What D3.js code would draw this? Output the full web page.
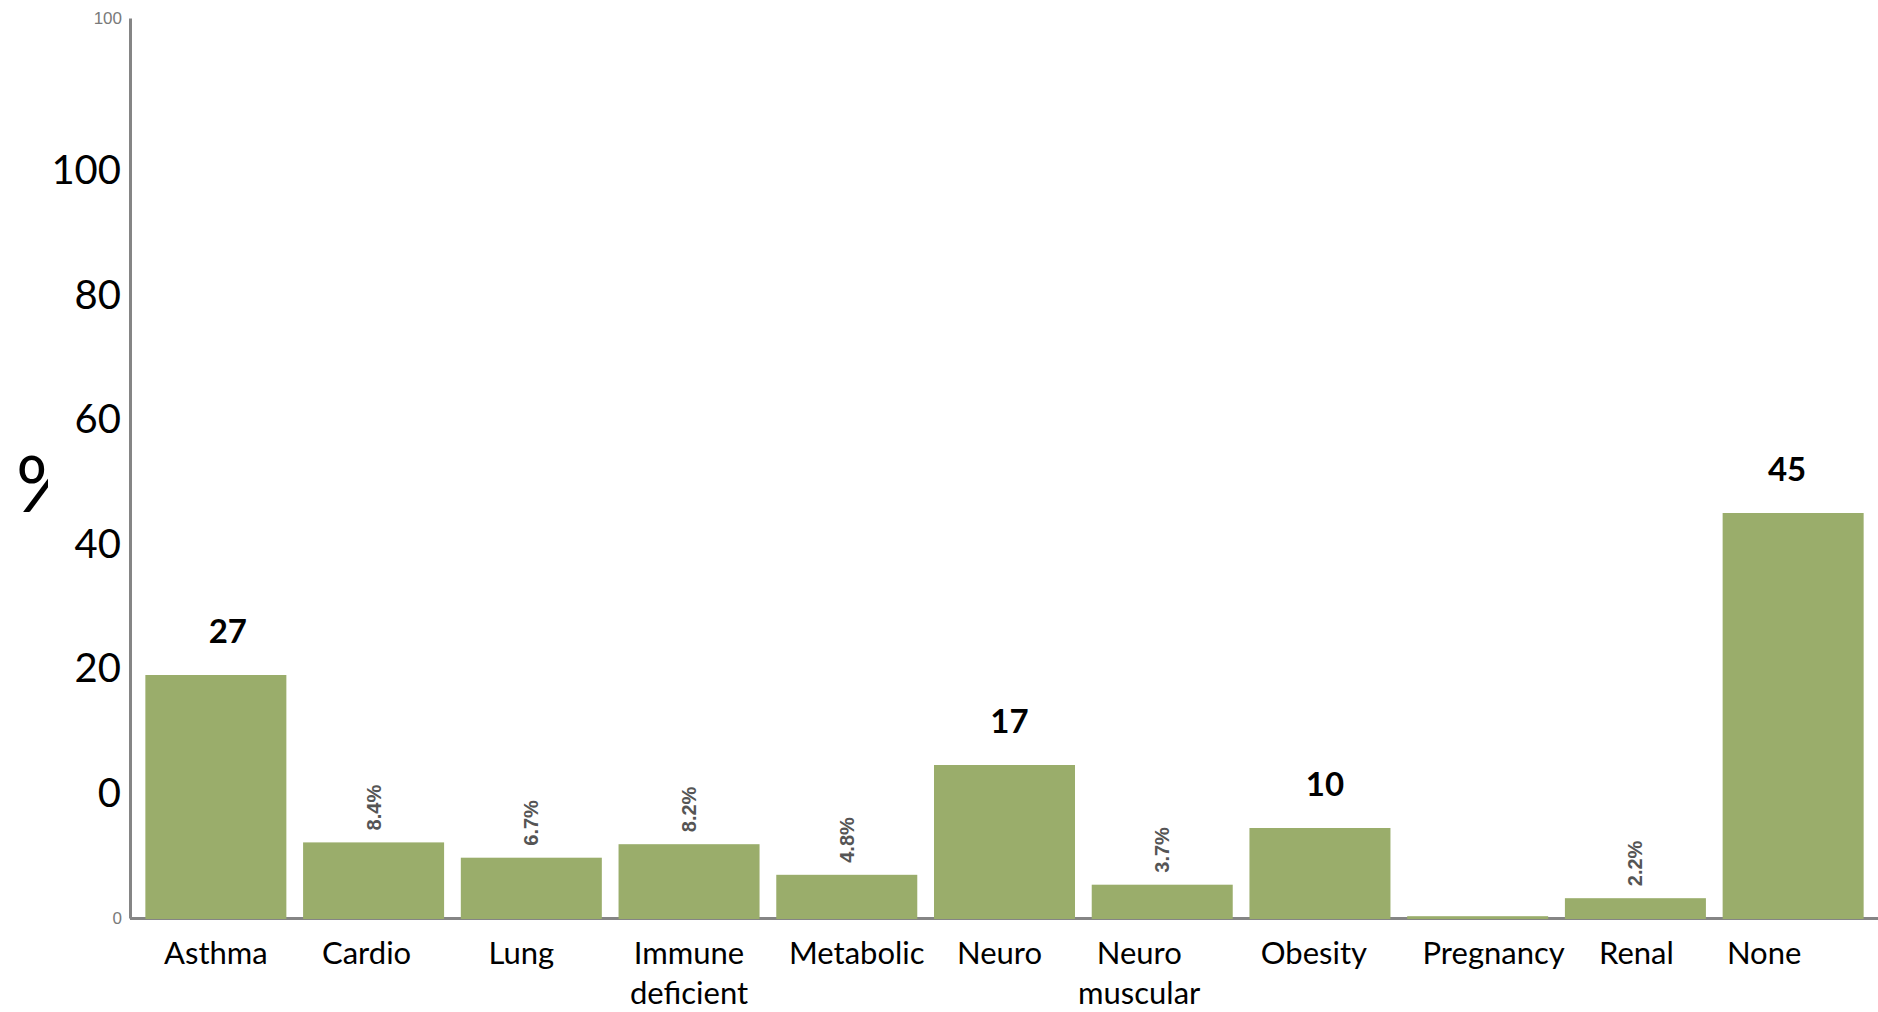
<!DOCTYPE html>
<html>
<head>
<meta charset="utf-8">
<script src="https://cdn.jsdelivr.net/npm/d3@7"></script>
<style>
  html, body { margin: 0; padding: 0; background: #fff; }
  svg { display: block; }
</style>
</head>
<body>
<svg id="chart" width="1878" height="1012"></svg>
<script>
// Underlying conditions of patients, share in percent
const categories = ["Asthma", "Cardio", "Lung", "Immune deficient", "Metabolic", "Neuro",
                    "Neuro muscular", "Obesity", "Pregnancy", "Renal", "None"];
const categoryLines = [["Asthma"], ["Cardio"], ["Lung"], ["Immune", "deficient"], ["Metabolic"], ["Neuro"],
                       ["Neuro", "muscular"], ["Obesity"], ["Pregnancy"], ["Renal"], ["None"]];
const values = [27, 8.4, 6.7, 8.2, 4.8, 17, 3.7, 10, 0.2, 2.2, 45];
// bold callouts over the larger groups
const boldLabels = ["27", null, null, null, null, "17", null, "10", null, null, "45"];
// small rotated percentage labels
const smallLabels = [null, "8.4%", "6.7%", "8.2%", "4.8%", null, "3.7%", null, null, "2.2%", null];
const bigTicks = [0, 20, 40, 60, 80, 100];
const axisTicks = [0, 100];

// layout constants
const labelNudge = [0, -7, -10, 0, 10, -5, -23, -6, 16, 1, -29];
const boldNudge = [12, 0, 0, 0, 0, 5, 0, 5, 0, 0, -6];
const barColor = "#9aad6b";
const axisColor = "#858585";

const svg = d3.select("#chart");

const x = d3.scaleBand()
  .domain(categories)
  .range([137, 1872])
  .paddingInner(0.106)
  .paddingOuter(0.053);

const y = d3.scaleLinear().domain([0, 100]).range([918, 18]);
// enlarged tick scale printed beside the axis
const yBig = d3.scaleLinear().domain([0, 100]).range([792, 169]);

// x baseline
svg.append("line")
  .attr("x1", 130).attr("x2", 1878)
  .attr("y1", y(0) + 0.5).attr("y2", y(0) + 0.5)
  .attr("stroke", axisColor).attr("stroke-width", 3);

// y axis with small grey ticks
const yAxis = svg.append("g")
  .attr("transform", "translate(130,0)")
  .call(d3.axisLeft(y).tickValues(axisTicks).tickSize(0).tickPadding(8));
yAxis.select(".domain").attr("stroke", axisColor).attr("stroke-width", 3);
yAxis.selectAll("text")
  .attr("font-family", "'Liberation Sans', Arial, sans-serif")
  .attr("font-size", 17)
  .attr("fill", "#7a7a7a");

// large tick labels
const bigAxis = svg.append("g")
  .attr("transform", "translate(121,0)")
  .call(d3.axisLeft(yBig).tickValues(bigTicks).tickSize(0).tickPadding(0));
bigAxis.select(".domain").remove();
bigAxis.selectAll("text")
  .attr("font-family", "Lato, 'Open Sans', sans-serif")
  .attr("font-size", 40)
  .attr("fill", "#000")
  .attr("dy", "0.36em");

// y title "%", partly masked
const defs = svg.append("defs");
defs.append("clipPath").attr("id", "pctClip")
  .append("rect").attr("x", 0).attr("y", 400).attr("width", 48).attr("height", 130);
svg.append("text")
  .attr("clip-path", "url(#pctClip)")
  .attr("x", 16).attr("y", 512)
  .attr("font-family", "Lato, sans-serif")
  .attr("font-size", 78)
  .attr("fill", "#000")
  .text("%");

// bars
svg.append("g").selectAll("rect")
  .data(values)
  .join("rect")
  .attr("x", (d, i) => x(categories[i]))
  .attr("width", x.bandwidth())
  .attr("y", d => y(d))
  .attr("height", d => y(0) + 1 - y(d))
  .attr("fill", barColor);

// small rotated labels
svg.append("g").selectAll("text")
  .data(values.map((v, i) => ({ v, i, t: smallLabels[i] })).filter(d => d.t))
  .join("text")
  .attr("transform", d => `translate(${x(categories[d.i]) + x.bandwidth() / 2 + 7},${y(d.v) - 12}) rotate(-90)`)
  .attr("text-anchor", "start")
  .attr("font-family", "'Liberation Sans', Arial, sans-serif")
  .attr("font-size", 20)
  .attr("font-weight", "bold")
  .attr("fill", "#555")
  .text(d => d.t);

// bold callouts
svg.append("g").selectAll("text")
  .data(values.map((v, i) => ({ v, i, t: boldLabels[i] })).filter(d => d.t))
  .join("text")
  .attr("x", d => x(categories[d.i]) + x.bandwidth() / 2 + boldNudge[d.i])
  .attr("y", d => y(d.v) - 32)
  .attr("text-anchor", "middle")
  .attr("font-family", "Lato, sans-serif")
  .attr("font-weight", "bold")
  .attr("font-size", 33)
  .attr("fill", "#000")
  .text(d => d.t);

// category labels
const cat = svg.append("g").selectAll("text")
  .data(categories)
  .join("text")
  .attr("x", (d, i) => x(d) + x.bandwidth() / 2 + labelNudge[i])
  .attr("y", 964)
  .attr("text-anchor", "middle")
  .attr("font-family", "Lato, sans-serif")
  .attr("font-size", 31)
  .attr("fill", "#000");
cat.selectAll("tspan")
  .data((d, i) => categoryLines[i].map((line, k) => ({ line, k, cx: x(d) + x.bandwidth() / 2 + labelNudge[i] })))
  .join("tspan")
  .attr("x", d => d.cx)
  .attr("dy", d => d.k === 0 ? 0 : 40)
  .text(d => d.line);
</script>
</body>
</html>
